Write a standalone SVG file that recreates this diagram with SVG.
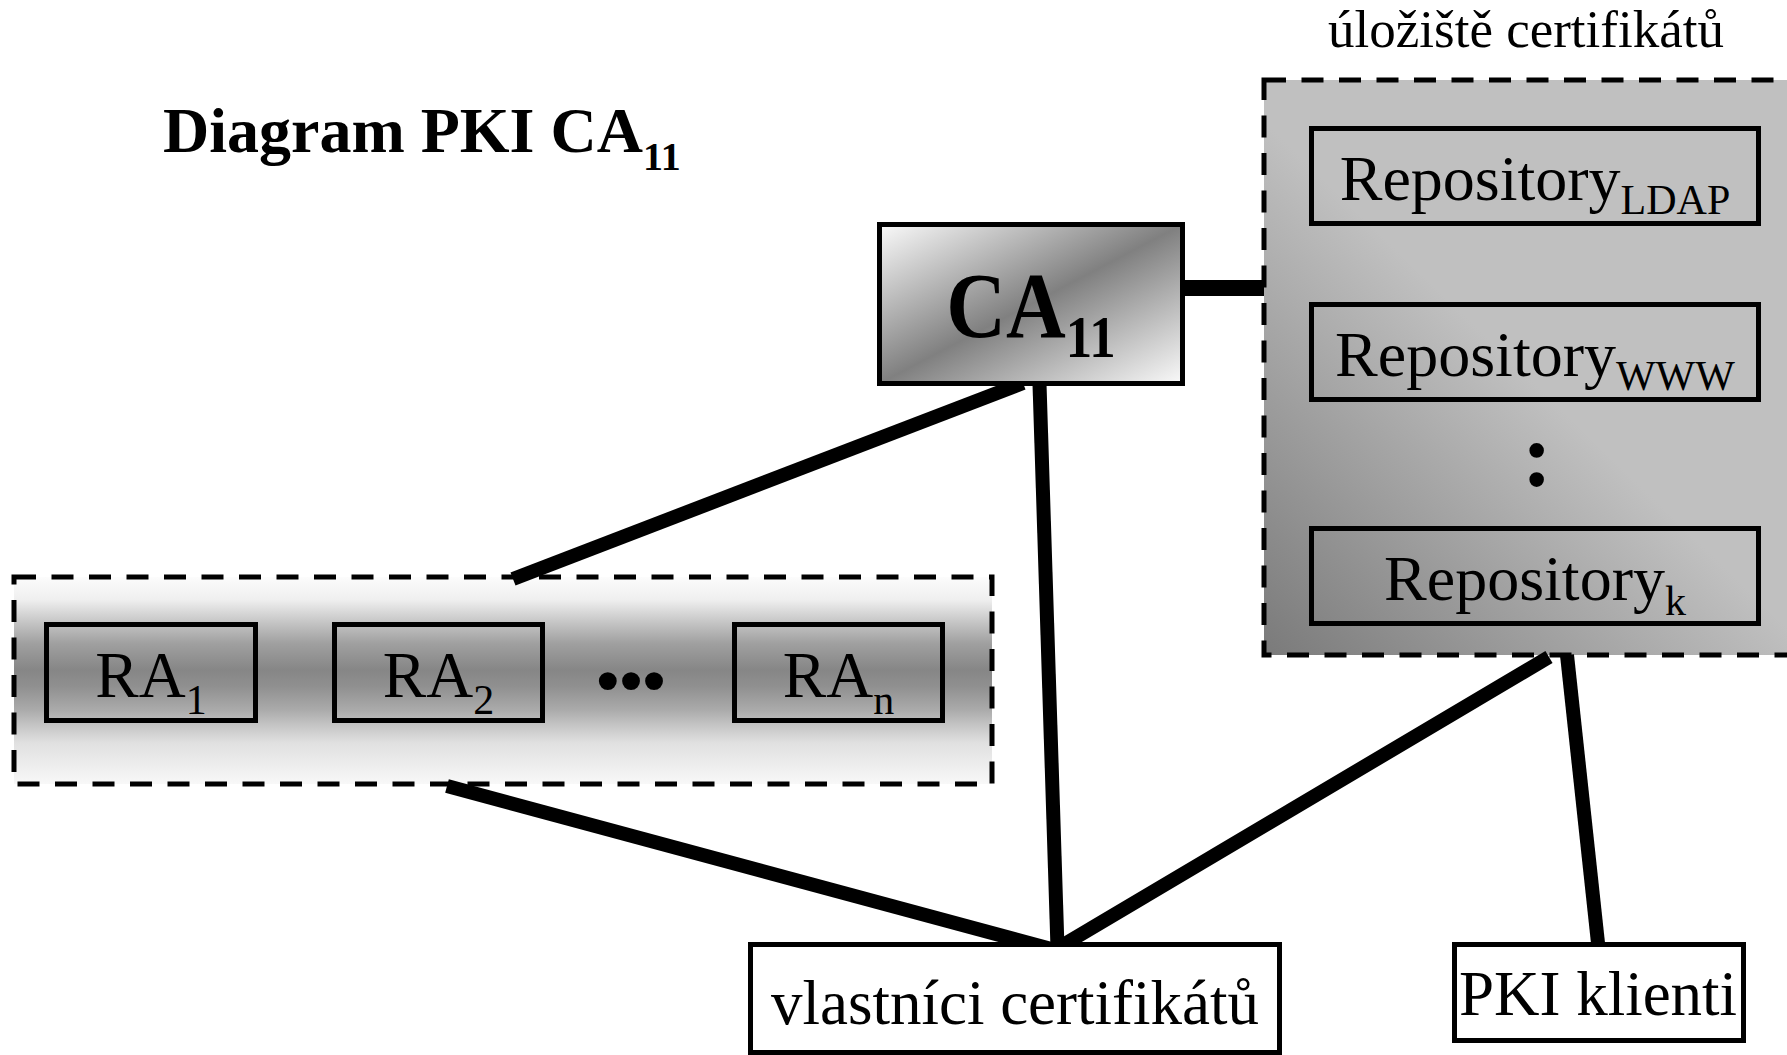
<svg xmlns="http://www.w3.org/2000/svg" width="1787" height="1055" viewBox="0 0 1787 1055">
  <style>
    text { font-family: "Liberation Serif", "Times New Roman", serif; fill: #000; }
    .box { fill: none; stroke: #000; stroke-width: 5; }
    .plain { fill: #fff; stroke: #000; stroke-width: 5; }
    .group { stroke: #000; stroke-width: 5; stroke-dasharray: 22 15.5; }
    .link { stroke: #000; stroke-width: 14; stroke-linecap: butt; fill: none; }
    .rep { font-size: 64px; }
    .rep .sub { font-size: 42px; }
    .ra { font-size: 65px; }
    .ra .sub { font-size: 42px; }
    .label { font-size: 63px; }
  </style>
  <defs>
    <linearGradient id="caFill" x1="0" y1="0" x2="1" y2="1">
      <stop offset="0" stop-color="#fafafa"/>
      <stop offset="0.5" stop-color="#808080"/>
      <stop offset="1" stop-color="#fafafa"/>
    </linearGradient>
    <linearGradient id="raFill" x1="0" y1="0" x2="0" y2="1">
      <stop offset="0" stop-color="#fcfcfc"/>
      <stop offset="0.11" stop-color="#efefef"/>
      <stop offset="0.22" stop-color="#c5c5c5"/>
      <stop offset="0.32" stop-color="#a0a0a0"/>
      <stop offset="0.45" stop-color="#868686"/>
      <stop offset="0.53" stop-color="#909090"/>
      <stop offset="0.64" stop-color="#aaaaaa"/>
      <stop offset="0.72" stop-color="#c6c6c6"/>
      <stop offset="0.8" stop-color="#e0e0e0"/>
      <stop offset="1" stop-color="#f8f8f8"/>
    </linearGradient>
    <linearGradient id="repoFill" gradientUnits="userSpaceOnUse" x1="1264" y1="656" x2="1531" y2="380">
      <stop offset="0" stop-color="#7a7a7a"/>
      <stop offset="1" stop-color="#c0c0c0"/>
    </linearGradient>
  </defs>

  <rect width="1787" height="1055" fill="#fff"/>

  <!-- heading -->
  <text id="title" x="163" y="152" font-size="64" font-weight="bold">Diagram PKI CA<tspan font-size="40" dy="18">11</tspan></text>

  <!-- certificate store with its repositories -->
  <g id="store">
    <text x="1526" y="47" font-size="53" text-anchor="middle">úložiště certifikátů</text>
    <rect class="group" x="1264" y="80" width="560" height="575" fill="url(#repoFill)"/>
  </g>
  <g id="repo-ldap">
    <rect class="box" x="1311.5" y="128.5" width="447" height="95"/>
    <text class="rep" x="1535" y="200" text-anchor="middle">Repository<tspan class="sub" dy="14">LDAP</tspan></text>
  </g>
  <g id="repo-www">
    <rect class="box" x="1311.5" y="304.5" width="447" height="95"/>
    <text class="rep" x="1535" y="376" text-anchor="middle">Repository<tspan class="sub" dy="14">WWW</tspan></text>
  </g>
  <text id="repo-more" x="1537" y="486" font-size="90" font-weight="bold" text-anchor="middle">:</text>
  <g id="repo-k">
    <rect class="box" x="1311.5" y="528.5" width="447" height="95"/>
    <text class="rep" x="1535" y="600" text-anchor="middle">Repository<tspan class="sub" dy="15">k</tspan></text>
  </g>

  <!-- registration authorities -->
  <g id="ra-group">
    <rect class="group" x="14" y="577" width="978" height="207" fill="url(#raFill)"/>
  </g>
  <g id="ra1">
    <rect class="box" x="46.5" y="624.5" width="209" height="96"/>
    <text class="ra" x="151" y="697" text-anchor="middle">RA<tspan class="sub" dy="17">1</tspan></text>
  </g>
  <g id="ra2">
    <rect class="box" x="334.5" y="624.5" width="208" height="96"/>
    <text class="ra" x="438.5" y="697" text-anchor="middle">RA<tspan class="sub" dy="17">2</tspan></text>
  </g>
  <text id="ra-more" x="631" y="703" font-size="66" font-weight="bold" text-anchor="middle">•••</text>
  <g id="ran">
    <rect class="box" x="734.5" y="624.5" width="208" height="96"/>
    <text class="ra" x="838.5" y="697" text-anchor="middle">RA<tspan class="sub" dy="17">n</tspan></text>
  </g>

  <!-- connectors -->
  <g id="connectors">
    <line class="link" x1="1185" y1="288" x2="1264" y2="288" style="stroke-width:16"/>
    <line class="link" x1="513" y1="579" x2="1023" y2="383"/>
    <line class="link" x1="1039.5" y1="384" x2="1057.5" y2="948"/>
    <line class="link" x1="447" y1="786" x2="1055" y2="950"/>
    <line class="link" x1="1549" y1="657" x2="1058" y2="948"/>
    <line class="link" x1="1567" y1="655" x2="1598" y2="943"/>
  </g>

  <!-- certification authority -->
  <g id="ca">
    <rect x="879.5" y="224.5" width="303" height="159" fill="url(#caFill)" stroke="#000" stroke-width="5"/>
    <text transform="translate(1031,337) scale(0.88,1)" font-size="94" font-weight="bold" text-anchor="middle">CA<tspan font-size="60" dy="20">11</tspan></text>
  </g>

  <!-- end entities -->
  <g id="owners">
    <rect class="plain" x="750.5" y="944.5" width="529" height="108"/>
    <text class="label" x="1015" y="1024" text-anchor="middle">vlastníci certifikátů</text>
  </g>
  <g id="clients">
    <rect class="plain" x="1454.5" y="944.5" width="289" height="96"/>
    <text class="label" x="1598" y="1015" text-anchor="middle">PKI klienti</text>
  </g>
</svg>
